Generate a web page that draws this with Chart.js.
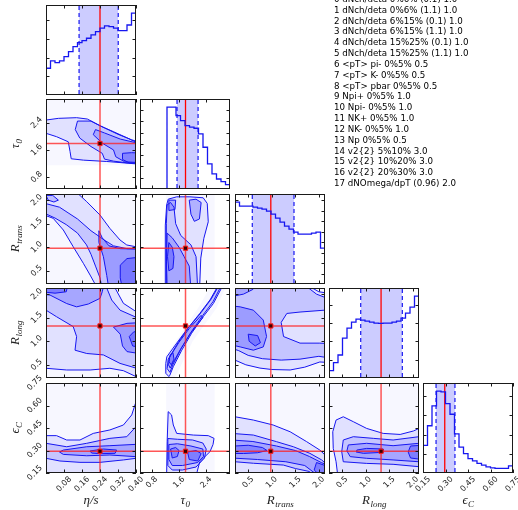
<!DOCTYPE html>
<html>
<head>
<meta charset="utf-8">
<title>corner plot</title>
<script src="https://cdn.jsdelivr.net/npm/chart.js@4.4.1/dist/chart.umd.min.js"></script>
<style>
  html, body { margin: 0; padding: 0; background: #fff; }
  #fig { position: relative; width: 518px; height: 510px; overflow: hidden; }
  #fig canvas { position: absolute; left: 0; top: 0; }
  #notes { position: absolute; left: 334px; top: -6px; margin: 0; font: 8.7px "DejaVu Sans"; line-height: 10.83px; color: #000; white-space: pre; }
</style>
</head>
<body>
<div id="fig"><pre id="notes"></pre></div>
<script>
// observable list printed at the top right
const NOTES = [
  '0 dNch/deta 0%6% (0.1) 1.0', '1 dNch/deta 0%6% (1.1) 1.0', '2 dNch/deta 6%15% (0.1) 1.0',
  '3 dNch/deta 6%15% (1.1) 1.0', '4 dNch/deta 15%25% (0.1) 1.0', '5 dNch/deta 15%25% (1.1) 1.0',
  '6 <pT> pi- 0%5% 0.5', '7 <pT> K- 0%5% 0.5', '8 <pT> pbar 0%5% 0.5', '9 Npi+ 0%5% 1.0',
  '10 Npi- 0%5% 1.0', '11 NK+ 0%5% 1.0', '12 NK- 0%5% 1.0', '13 Np 0%5% 0.5',
  '14 v2{2} 5%10% 3.0', '15 v2{2} 10%20% 3.0', '16 v2{2} 20%30% 3.0', '17 dNOmega/dpT (0.96) 2.0'
];

// parameters: eta/s, tau0, R_trans, R_long, eps_C
const TITLES = [['η/s', ''], ['τ', '0'], ['R', 'trans'], ['R', 'long'], ['ϵ', 'C']];
const RANGES = [[0, 0.40], [0.45, 3.10], [0.22, 2.13], [0.22, 2.13], [0.15, 0.75]];
const TICKS = [[0.08, 0.16, 0.24, 0.32, 0.40], [0.8, 1.6, 2.4], [0.5, 1.0, 1.5, 2.0], [0.5, 1.0, 1.5, 2.0], [0.15, 0.30, 0.45, 0.60, 0.75]];
const TICK_LABELS = [['0.08', '0.16', '0.24', '0.32', '0.40'], ['0.8', '1.6', '2.4'], ['0.5', '1.0', '1.5', '2.0'], ['0.5', '1.0', '1.5', '2.0'], ['0.15', '0.30', '0.45', '0.60', '0.75']];
const TRUTH = [0.24, 1.79, 0.98, 1.325, 0.295];
const Q_LOW = [0.147, 1.54, 0.587, 0.893, 0.237];
const Q_HIGH = [0.321, 2.16, 1.472, 1.776, 0.363];

// marginal histograms (20 bins over each range)
const HIST_ETA = [143, 182, 173, 182, 205, 232, 258, 280, 290, 303, 321, 339, 357, 369, 365, 357, 344, 344, 374, 437];
const HIST_TAU = [0, 0, 0, 0, 0, 0, 727, 727, 652, 608, 563, 549, 540, 490, 371, 223, 134, 89, 65, 38];
const HIST_RTRANS = [781, 743, 743, 743, 733, 724, 714, 695, 667, 629, 590, 552, 524, 495, 476, 476, 476, 486, 495, 343];
const HIST_RLONG = [40, 84, 126, 218, 273, 306, 322, 317, 311, 306, 300, 299, 300, 300, 306, 311, 328, 355, 388, 448];
const HIST_EPS = [144, 246, 349, 426, 422, 361, 306, 204, 135, 101, 75, 63, 50, 41, 32, 27, 24, 24, 24, 37];
const HISTS = [HIST_ETA, HIST_TAU, HIST_RTRANS, HIST_RLONG, HIST_EPS];
const HIST_STEP = 100;

// 2d contours, outer level first, [x, y] in parameter units
const CT_TAU_ETA = [
  [[-0.02, 2.48], [0, 2.48], [0.055, 2.53], [0.136, 2.55], [0.184, 2.51], [0.24, 2.31], [0.299, 2.14], [0.359, 1.96], [0.40, 1.83], [0.44, 1.8], [0.44, 1.18], [0.40, 1.19], [0.27, 1.26], [0.166, 1.30], [0.112, 1.34], [0.107, 1.55], [0.099, 1.84], [0.047, 1.99], [0, 2.09], [-0.02, 2.1]],
  [[0.14, 2.45], [0.2, 2.45], [0.26, 2.25], [0.32, 2.06], [0.38, 1.9], [0.44, 1.78], [0.44, 1.2], [0.36, 1.22], [0.3, 1.27], [0.26, 1.33], [0.25, 1.5], [0.2, 1.7], [0.15, 1.95], [0.13, 2.2]],
  [[0.22, 2.2], [0.26, 2.1], [0.33, 1.92], [0.44, 1.75], [0.44, 1.22], [0.35, 1.25], [0.31, 1.4], [0.3, 1.6], [0.25, 1.8], [0.21, 2.05]],
  [[0.34, 1.5], [0.38, 1.52], [0.44, 1.5], [0.44, 1.2], [0.37, 1.22], [0.34, 1.32]]
];
const CT_RT_ETA = [
  [[0.135, 2.2], [0.144, 2.13], [0.181, 1.967], [0.24, 1.684], [0.284, 1.40], [0.329, 1.154], [0.359, 1.048], [0.40, 1.01], [0.44, 1.0], [0.44, 0.1], [0.218, 0.1], [0.218, 0.22], [0.196, 0.41], [0.166, 0.659], [0.121, 1.01], [0.077, 1.366], [0.032, 1.614], [0, 1.67], [-0.02, 1.68], [-0.02, 2.2]],
  [[-0.02, 1.95], [0.06, 1.85], [0.14, 1.6], [0.2, 1.35], [0.26, 1.15], [0.3, 1.03], [0.36, 0.97], [0.44, 0.96], [0.44, 0.1], [0.25, 0.1], [0.24, 0.35], [0.22, 0.6], [0.2, 0.85], [0.18, 1.05], [0.14, 1.3], [0.09, 1.48], [0.04, 1.62], [-0.02, 1.75]],
  [[0, 2.1], [0.03, 2.1], [0.055, 2.0], [0.035, 1.96], [0.01, 2.0]],
  [[0.235, 1.35], [0.25, 1.2], [0.28, 1.03], [0.33, 0.97], [0.44, 0.96], [0.44, 0.1], [0.28, 0.1], [0.27, 0.4], [0.255, 0.8], [0.235, 1.1]],
  [[0.33, 0.62], [0.36, 0.76], [0.44, 0.8], [0.44, 0.1], [0.34, 0.1], [0.33, 0.35]]
];
const CT_RT_TAU = [
  [[1.235, 1.897], [1.28, 2.02], [1.53, 2.07], [1.92, 2.07], [2.31, 2.05], [2.43, 1.93], [2.46, 1.54], [2.33, 1.19], [2.24, 0.77], [2.21, 0.22], [2.2, 0.1], [1.21, 0.1], [1.19, 0.905], [1.2, 1.47]],
  [[1.25, 1.9], [1.35, 1.95], [1.45, 1.85], [1.5, 1.5], [1.65, 1.25], [1.95, 1.05], [2.1, 0.8], [2.15, 0.1], [1.23, 0.1], [1.22, 1.0], [1.23, 1.5]],
  [[1.25, 1.3], [1.4, 1.2], [1.6, 1.0], [1.75, 0.8], [1.9, 0.6], [1.95, 0.1], [1.25, 0.1], [1.23, 0.7]],
  [[1.9, 2.0], [2.1, 2.02], [2.25, 1.95], [2.2, 1.6], [2.05, 1.55], [1.95, 1.7]],
  [[1.3, 2.0], [1.5, 2.0], [1.48, 1.8], [1.3, 1.78]],
  [[1.3, 1.1], [1.4, 1.0], [1.45, 0.8], [1.42, 0.55], [1.3, 0.5], [1.26, 0.8]]
];
const CT_RL_ETA = [
  [[-0.02, 2.25], [0.307, 2.25], [0.307, 2.13], [0.344, 1.805], [0.40, 1.63], [0.44, 1.6], [0.44, 0.24], [0.40, 0.25], [0.344, 0.375], [0.284, 0.426], [0.196, 0.39], [0.092, 0.39], [0, 0.426], [-0.02, 0.43]],
  [[-0.02, 2.25], [0.27, 2.25], [0.27, 2.13], [0.292, 1.875], [0.329, 1.66], [0.40, 1.51], [0.44, 1.5], [0.44, 0.42], [0.40, 0.43], [0.329, 0.53], [0.255, 0.71], [0.181, 0.74], [0.129, 0.81], [0.136, 1.10], [0.121, 1.31], [0.047, 1.52], [0, 1.66], [-0.02, 1.67]],
  [[-0.02, 2.25], [0.26, 2.25], [0.25, 2.05], [0.24, 1.91], [0.188, 1.79], [0.136, 1.73], [0.092, 1.8], [0.018, 1.98], [-0.02, 2.0]],
  [[0.3, 1.3], [0.33, 1.15], [0.34, 0.9], [0.36, 0.78], [0.44, 0.72], [0.44, 1.4], [0.36, 1.38]],
  [[-0.02, 2.25], [0.1, 2.25], [0.09, 2.05], [0.04, 2.02], [-0.02, 2.05]],
  [[0.37, 1.1], [0.385, 0.9], [0.44, 0.85], [0.44, 1.2], [0.39, 1.2]]
];
const CT_RL_TAU = [
  [[1.21, 0.53], [1.24, 0.67], [1.53, 0.96], [1.82, 1.24], [2.21, 1.59], [2.51, 1.875], [2.71, 2.13], [2.75, 2.25], [2.95, 2.25], [2.85, 2.13], [2.61, 1.80], [2.31, 1.52], [1.97, 1.17], [1.68, 0.81], [1.43, 0.46], [1.33, 0.28], [1.3, 0.25], [1.21, 0.32]],
  [[1.25, 0.42], [1.28, 0.62], [1.57, 0.97], [1.86, 1.27], [2.25, 1.61], [2.55, 1.9], [2.74, 2.14], [2.8, 2.12], [2.6, 1.84], [2.3, 1.55], [1.95, 1.19], [1.66, 0.84], [1.42, 0.5], [1.33, 0.34]],
  [[1.29, 0.5], [1.32, 0.66], [1.6, 0.98], [1.9, 1.27], [2.25, 1.55], [2.3, 1.5], [1.93, 1.16], [1.65, 0.84], [1.42, 0.54], [1.34, 0.43]],
  [[1.3, 0.57], [1.34, 0.72], [1.42, 0.76], [1.45, 0.62], [1.37, 0.5]]
];
const CT_RL_RT = [
  [[0.15, 2.25], [1.86, 2.25], [1.86, 2.13], [2.0, 2.05], [2.2, 2.02], [2.2, 0.55], [2.02, 0.56], [1.7, 0.45], [1.39, 0.39], [1.0, 0.4], [0.75, 0.43], [0.45, 0.5], [0.22, 0.6], [0.15, 0.6]],
  [[0.15, 2.25], [1.78, 2.25], [1.78, 2.13], [1.95, 2.0], [2.13, 1.93], [2.2, 1.92], [2.2, 1.68], [2.13, 1.66], [1.6, 1.62], [1.32, 1.59], [1.2, 1.4], [1.25, 1.1], [1.6, 0.96], [2.02, 0.96], [2.2, 0.95], [2.2, 0.65], [2.0, 0.68], [1.6, 0.62], [1.2, 0.6], [0.8, 0.63], [0.5, 0.7], [0.3, 0.8], [0.15, 0.85]],
  [[0.15, 2.25], [0.7, 2.25], [0.6, 2.1], [0.4, 2.0], [0.15, 1.95]],
  [[0.15, 1.75], [0.33, 1.73], [0.61, 1.66], [0.82, 1.45], [0.89, 1.10], [0.82, 0.88], [0.61, 0.81], [0.33, 0.88], [0.15, 0.92]],
  [[0.5, 1.15], [0.7, 1.12], [0.76, 0.97], [0.65, 0.9], [0.52, 1.0]]
];
const CT_EPS_ETA = [
  [[-0.02, 0.4], [0, 0.399], [0.047, 0.399], [0.092, 0.37], [0.151, 0.37], [0.21, 0.414], [0.284, 0.437], [0.344, 0.47], [0.381, 0.537], [0.40, 0.625], [0.44, 0.66], [0.44, 0.1], [-0.02, 0.1]],
  [[-0.02, 0.348], [0, 0.348], [0.092, 0.325], [0.181, 0.348], [0.284, 0.381], [0.359, 0.392], [0.40, 0.459], [0.44, 0.47], [0.44, 0.245], [0.40, 0.248], [0.344, 0.237], [0.24, 0.221], [0.151, 0.221], [0.062, 0.23], [0, 0.248], [-0.02, 0.25]],
  [[0.077, 0.303], [0.181, 0.325], [0.284, 0.332], [0.40, 0.341], [0.44, 0.341], [0.44, 0.259], [0.40, 0.259], [0.284, 0.27], [0.181, 0.265], [0.077, 0.274], [0.06, 0.29]],
  [[0.196, 0.297], [0.255, 0.31], [0.314, 0.303], [0.307, 0.281], [0.24, 0.279], [0.203, 0.283]]
];
const CT_EPS_TAU = [
  [[1.235, 0.1], [1.235, 0.148], [1.25, 0.359], [1.28, 0.559], [1.38, 0.537], [1.43, 0.47], [1.53, 0.414], [2.02, 0.403], [2.46, 0.399], [2.63, 0.381], [2.6, 0.34], [2.51, 0.292], [2.21, 0.225], [2.12, 0.148], [2.12, 0.1]],
  [[1.27, 0.38], [1.55, 0.375], [2.0, 0.37], [2.3, 0.35], [2.4, 0.31], [2.35, 0.25], [2.1, 0.19], [1.7, 0.17], [1.4, 0.17], [1.27, 0.2]],
  [[1.3, 0.34], [1.55, 0.345], [1.95, 0.33], [2.3, 0.31], [2.32, 0.26], [2.15, 0.22], [1.7, 0.2], [1.4, 0.2], [1.3, 0.24]],
  [[1.35, 0.31], [1.5, 0.32], [1.6, 0.3], [1.55, 0.26], [1.4, 0.25]],
  [[1.85, 0.29], [2.1, 0.3], [2.25, 0.28], [2.15, 0.23], [1.9, 0.24]]
];
const CT_EPS_RT = [
  [[0.15, 0.525], [0.22, 0.525], [0.61, 0.503], [1.03, 0.47], [1.39, 0.425], [1.74, 0.359], [2.02, 0.303], [2.13, 0.27], [2.2, 0.26], [2.2, 0.1], [0.15, 0.1]],
  [[0.15, 0.414], [0.61, 0.403], [1.1, 0.359], [1.46, 0.325], [1.81, 0.281], [2.06, 0.237], [2.13, 0.217], [2.2, 0.21], [2.2, 0.1], [1.9, 0.1], [1.8, 0.16], [1.5, 0.18], [1.245, 0.203], [0.61, 0.215], [0.22, 0.225], [0.15, 0.225]],
  [[0.15, 0.37], [0.6, 0.36], [1.1, 0.33], [1.5, 0.3], [1.8, 0.26], [2.05, 0.22], [2.2, 0.2], [2.2, 0.12], [1.95, 0.14], [1.7, 0.2], [1.3, 0.225], [0.7, 0.24], [0.15, 0.25]],
  [[0.22, 0.33], [0.5, 0.335], [0.8, 0.32], [0.9, 0.3], [0.7, 0.285], [0.4, 0.28], [0.22, 0.28]],
  [[1.95, 0.22], [2.13, 0.2], [2.2, 0.2], [2.2, 0.13], [2.0, 0.14], [1.9, 0.17]]
];
const CT_EPS_RL = [
  [[0.4, 0.1], [0.4, 0.148], [0.37, 0.225], [0.31, 0.314], [0.30, 0.425], [0.37, 0.503], [0.523, 0.525], [0.736, 0.492], [1.02, 0.447], [1.37, 0.414], [1.73, 0.407], [2.01, 0.43], [2.13, 0.447], [2.2, 0.45], [2.2, 0.1]],
  [[0.523, 0.37], [0.736, 0.392], [1.16, 0.381], [1.58, 0.37], [2.13, 0.392], [2.2, 0.392], [2.2, 0.19], [2.13, 0.192], [1.58, 0.208], [1.02, 0.214], [0.523, 0.225], [0.49, 0.292]],
  [[0.63, 0.337], [1.02, 0.348], [1.58, 0.332], [2.13, 0.348], [2.2, 0.35], [2.2, 0.225], [2.13, 0.225], [1.58, 0.237], [1.02, 0.248], [0.67, 0.259], [0.6, 0.297]],
  [[0.81, 0.303], [1.02, 0.314], [1.37, 0.31], [1.37, 0.288], [0.95, 0.281], [0.8, 0.29]],
  [[1.95, 0.33], [2.2, 0.335], [2.2, 0.24], [1.95, 0.25], [1.9, 0.29]]
];

// faint sample cloud behind the contours
const HALO_TAU_ETA = [[-0.02, 1.15], [0.44, 1.15], [0.44, 3.2], [-0.02, 3.2]];
const HALO_TAU_COL = [[1.22, 0.1], [2.65, 0.1], [2.65, 2.2], [1.22, 2.2]];
const HALO_TAU_EPS = [[1.22, 0.1], [2.65, 0.1], [2.65, 0.8], [1.22, 0.8]];
const HALO_FULL = [[-1, -1], [3.5, -1], [3.5, 3.5], [-1, 3.5]];
const HALO_RL_TAU = [[1.15, 0.22], [1.2, 0.7], [1.6, 1.1], [2.2, 1.75], [2.55, 2.2], [3.0, 2.2], [2.7, 1.7], [2.0, 1.0], [1.6, 0.4], [1.4, 0.15]];

const PAIRS = [
  [1, 0, CT_TAU_ETA, HALO_TAU_ETA], [2, 0, CT_RT_ETA, HALO_FULL], [2, 1, CT_RT_TAU, HALO_TAU_COL],
  [3, 0, CT_RL_ETA, HALO_FULL], [3, 1, CT_RL_TAU, HALO_RL_TAU], [3, 2, CT_RL_RT, HALO_FULL],
  [4, 0, CT_EPS_ETA, HALO_FULL], [4, 1, CT_EPS_TAU, HALO_TAU_EPS], [4, 2, CT_EPS_RT, HALO_FULL], [4, 3, CT_EPS_RL, HALO_FULL]
];

// layout of the 5x5 grid (pixels)
const W = 518, H = 510, SIZE = 90;
const COL_X = [46, 140, 235, 329, 423];
const ROW_Y = [5, 99, 194, 288, 383];

const BLUE = '#1616f0';
const LEVEL_FILL = ['rgba(25,25,255,0.10)', 'rgba(25,25,255,0.14)', 'rgba(25,25,255,0.18)', 'rgba(25,25,255,0.24)', 'rgba(25,25,255,0.28)', 'rgba(25,25,255,0.3)'];
const HALO_FILL = 'rgba(60,60,255,0.045)';
const BAND = 'rgba(0, 0, 255, 0.2)';
const RED_LINE = 'rgba(255, 30, 30, 0.75)';
const TICK_FONT = '8px "DejaVu Sans"';
const MAIN_FONT = 'italic 13px "Liberation Serif"';
const SUB_FONT = 'italic 9px "Liberation Serif"';

const fig = document.getElementById('fig');
const notes = document.getElementById('notes');
notes.textContent = NOTES.join('\n');

const pts = list => list.map(p => ({ x: p[0], y: p[1] }));

function rotText(ctx, t, cx, cy) {
  ctx.save();
  ctx.translate(cx, cy);
  ctx.rotate(-Math.PI / 4);
  ctx.fillText(t, 0, 0);
  ctx.restore();
}

function drawMath(ctx, parts, x, y, rot) {
  ctx.save();
  ctx.translate(x, y);
  ctx.rotate(rot);
  ctx.textAlign = 'left';
  ctx.textBaseline = 'alphabetic';
  ctx.font = MAIN_FONT;
  const w1 = ctx.measureText(parts[0]).width;
  ctx.font = SUB_FONT;
  const w2 = parts[1] ? ctx.measureText(parts[1]).width : 0;
  const x0 = -(w1 + w2) / 2;
  ctx.font = MAIN_FONT;
  ctx.fillText(parts[0], x0, 4);
  if (parts[1]) {
    ctx.font = SUB_FONT;
    ctx.fillText(parts[1], x0 + w1 + 0.5, 7);
  }
  ctx.restore();
}

// frame, inward ticks, tick labels and titles
function framePlugin(row, col, yTicks) {
  return {
    id: 'frame',
    afterDatasetsDraw(chart) {
      const ctx = chart.ctx, a = chart.chartArea;
      const sx = chart.scales.x, sy = chart.scales.y;
      ctx.save();
      ctx.strokeStyle = '#1a1a1a';
      ctx.lineWidth = 1;
      ctx.beginPath();
      TICKS[col].forEach(v => {
        const p = Math.round(sx.getPixelForValue(v)) + 0.5;
        ctx.moveTo(p, a.bottom); ctx.lineTo(p, a.bottom - 3.5);
        ctx.moveTo(p, a.top); ctx.lineTo(p, a.top + 3.5);
      });
      yTicks.forEach(v => {
        const p = Math.round(sy.getPixelForValue(v)) + 0.5;
        ctx.moveTo(a.left, p); ctx.lineTo(a.left + 3.5, p);
        ctx.moveTo(a.right, p); ctx.lineTo(a.right - 3.5, p);
      });
      ctx.stroke();
      ctx.strokeRect(a.left + 0.5, a.top + 0.5, a.width - 1, a.height - 1);

      ctx.fillStyle = '#222';
      ctx.font = TICK_FONT;
      ctx.textAlign = 'center';
      ctx.textBaseline = 'middle';
      if (row === 4) {
        TICKS[col].forEach((v, k) => {
          const t = TICK_LABELS[col][k];
          const half = (ctx.measureText(t).width + 8) * 0.7071 / 2;
          rotText(ctx, t, sx.getPixelForValue(v), a.bottom + 2 + half);
        });
        drawMath(ctx, TITLES[col], a.left + a.width / 2, 500, 0);
      }
      if (col === 0 && row > 0) {
        TICKS[row].forEach((v, k) => {
          const t = TICK_LABELS[row][k];
          const half = (ctx.measureText(t).width + 8) * 0.7071 / 2;
          rotText(ctx, t, a.left - 2 - half, sy.getPixelForValue(v));
        });
        drawMath(ctx, TITLES[row], 15, a.top + a.height / 2, -Math.PI / 2);
      }
      ctx.restore();
    }
  };
}

function addPanel(row, col, datasets, yMin, yMax, yTicks) {
  const canvas = document.createElement('canvas');
  canvas.width = W; canvas.height = H;
  canvas.style.width = W + 'px'; canvas.style.height = H + 'px';
  fig.insertBefore(canvas, notes);
  new Chart(canvas, {
    type: 'line',
    data: { datasets },
    options: {
      responsive: false, animation: false, devicePixelRatio: 1, events: [],
      layout: { padding: { left: COL_X[col], top: ROW_Y[row], right: W - COL_X[col] - SIZE, bottom: H - ROW_Y[row] - SIZE } },
      elements: { point: { radius: 0 }, line: { tension: 0 } },
      plugins: { legend: { display: false }, tooltip: { enabled: false } },
      scales: {
        x: { type: 'linear', display: false, min: RANGES[col][0], max: RANGES[col][1] },
        y: { type: 'linear', display: false, min: yMin, max: yMax }
      }
    },
    plugins: [framePlugin(row, col, yTicks)]
  });
}

// diagonal: 1d histograms with 16-84% band and median line
HISTS.forEach((counts, i) => {
  const [lo, hi] = RANGES[i];
  const n = counts.length, w = (hi - lo) / n;
  const top = Math.max(...counts) * 1.1;
  const step = [{ x: lo, y: 0 }];
  counts.forEach((c, k) => step.push({ x: lo + k * w, y: c }));
  step.push({ x: hi, y: counts[n - 1] }, { x: hi, y: 0 });
  const yTicks = [];
  for (let v = HIST_STEP; v < top; v += HIST_STEP) yTicks.push(v);
  const vline = (x, extra) => Object.assign({ data: [{ x, y: -top }, { x, y: top * 2 }], fill: false, pointRadius: 0 }, extra);
  addPanel(i, i, [
    { data: [{ x: Q_LOW[i], y: top * 2 }, { x: Q_HIGH[i], y: top * 2 }], fill: 'origin', backgroundColor: BAND, borderWidth: 0, order: 9 },
    vline(Q_LOW[i], { borderColor: BLUE, borderWidth: 1.2, borderDash: [4, 3], order: 5 }),
    vline(Q_HIGH[i], { borderColor: BLUE, borderWidth: 1.2, borderDash: [4, 3], order: 5 }),
    vline(TRUTH[i], { borderColor: '#ff0000', borderWidth: 1.3, order: 3 }),
    { data: step, stepped: 'before', fill: false, borderColor: BLUE, borderWidth: 1.3, order: 2 }
  ], 0, top, yTicks);
});

// lower triangle: 2d contours with truth crosshair
PAIRS.forEach(([row, col, contours, halo]) => {
  const sets = [{ data: pts(halo.concat([halo[0]])), fill: 'shape', backgroundColor: HALO_FILL, borderWidth: 0, order: 50 }];
  contours.forEach((c, k) => sets.push({
    data: pts(c.concat([c[0]])), fill: 'shape', backgroundColor: LEVEL_FILL[Math.min(k, 5)],
    borderColor: BLUE, borderWidth: 1, order: 40 - k
  }));
  const [xl, xh] = RANGES[col], [yl, yh] = RANGES[row];
  sets.push(
    { data: [{ x: TRUTH[col], y: yl - 1 }, { x: TRUTH[col], y: yh + 1 }], fill: false, borderColor: RED_LINE, borderWidth: 1.5, order: 3 },
    { data: [{ x: xl - 1, y: TRUTH[row] }, { x: xh + 1, y: TRUTH[row] }], fill: false, borderColor: RED_LINE, borderWidth: 1.5, order: 3 },
    { data: [{ x: TRUTH[col], y: TRUTH[row] }], showLine: false, pointStyle: 'rect', pointRadius: 3, backgroundColor: '#3a0000', borderColor: '#ff2020', borderWidth: 1, order: 1 }
  );
  addPanel(row, col, sets, yl, yh, TICKS[row]);
});
</script>
</body>
</html>
